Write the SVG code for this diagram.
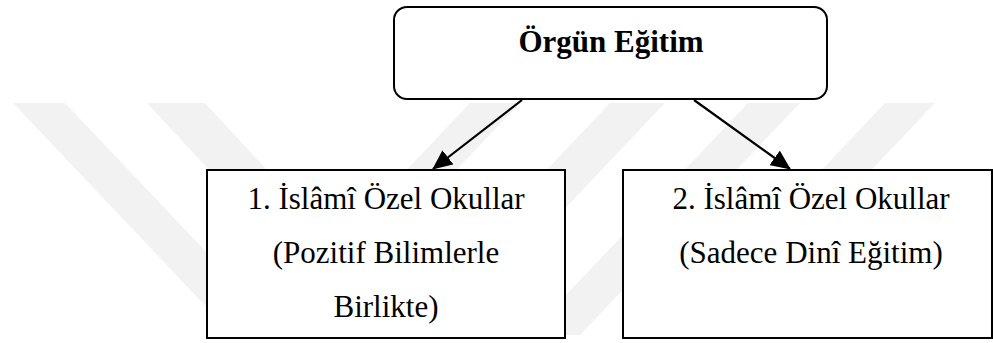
<svg xmlns="http://www.w3.org/2000/svg" width="993" height="343" viewBox="0 0 993 343">
  <defs>
    <style>
      .wm { fill: #f2f2f2; stroke: none; }
      .box { fill: #ffffff; stroke: #000000; stroke-width: 2; }
      .lbl { font-size: 31px; fill: #000000; text-anchor: middle; }
      .bold { font-weight: bold; }
      .conn { stroke: #000000; stroke-width: 2.2; fill: none; }
    </style>
    <marker id="arrow" markerWidth="20" markerHeight="18" refX="19" refY="9" orient="auto" markerUnits="userSpaceOnUse" viewBox="0 0 20 18">
      <path d="M0,0 L20,9 L0,18 Z" fill="#000000"/>
    </marker>
  </defs>
  <rect x="0" y="0" width="993" height="343" fill="#ffffff"/>
  <g id="watermark">
    <polygon class="wm" points="13,103 65,103 285,335 233,335"/>
    <polygon class="wm" points="147,103 205,103 420,335 362,335"/>
    <polygon class="wm" points="470,103 520,103 300,335 250,335"/>
    <polygon class="wm" points="610,103 665,103 445,335 390,335"/>
    <polygon class="wm" points="748,103 800,103 580,335 528,335"/>
    <polygon class="wm" points="885,103 935,103 715,335 665,335"/>
  </g>
  <g id="connectors">
    <line class="conn" x1="522" y1="100" x2="433" y2="169" marker-end="url(#arrow)"/>
    <line class="conn" x1="694" y1="100" x2="790" y2="169" marker-end="url(#arrow)"/>
  </g>
  <g font-family="Times New Roman, Liberation Serif, Tinos, DejaVu Serif, Noto Serif, serif">
  <g id="node-orgun">
    <rect class="box" x="394" y="7" width="433" height="92" rx="13" ry="13"/>
    <text class="lbl bold" x="611" y="52">Örgün Eğitim</text>
  </g>
  <g id="node-islami-1">
    <rect class="box" x="207" y="170" width="358" height="168"/>
    <text class="lbl" x="386" y="209">1. İslâmî Özel Okullar</text>
    <text class="lbl" x="386" y="263">(Pozitif Bilimlerle</text>
    <text class="lbl" x="386" y="317">Birlikte)</text>
  </g>
  <g id="node-islami-2">
    <rect class="box" x="623" y="170" width="369" height="168"/>
    <text class="lbl" x="811" y="209">2. İslâmî Özel Okullar</text>
    <text class="lbl" x="811" y="263">(Sadece Dinî Eğitim)</text>
  </g>
  </g>
</svg>
